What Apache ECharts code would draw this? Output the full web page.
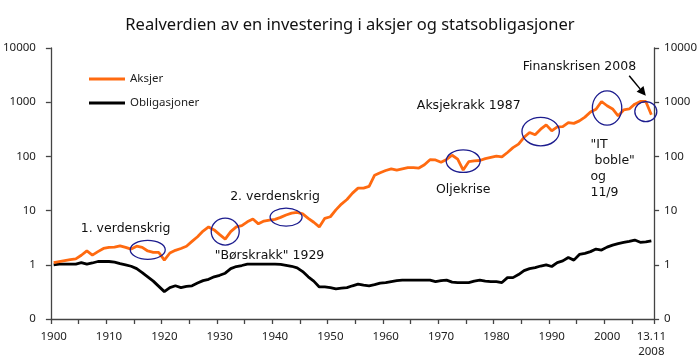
<!DOCTYPE html>
<html><head><meta charset="utf-8">
<script src="https://cdn.jsdelivr.net/npm/echarts@6/dist/echarts.min.js"></script>
<style>html,body{margin:0;padding:0;background:#fff}#c{width:700px;height:363px}</style>
</head><body><div id="c"></div>
<script>
const years = [
1900,1901,1902,1903,1904,1905,1906,1907,1908,1909,
1910,1911,1912,1913,1914,1915,1916,1917,1918,1919,
1920,1921,1922,1923,1924,1925,1926,1927,1928,1929,
1930,1931,1932,1933,1934,1935,1936,1937,1938,1939,
1940,1941,1942,1943,1944,1945,1946,1947,1948,1949,
1950,1951,1952,1953,1954,1955,1956,1957,1958,1959,
1960,1961,1962,1963,1964,1965,1966,1967,1968,1969,
1970,1971,1972,1973,1974,1975,1976,1977,1978,1979,
1980,1981,1982,1983,1984,1985,1986,1987,1988,1989,
1990,1991,1992,1993,1994,1995,1996,1997,1998,1999,
2000,2001,2002,2003,2004,2005,2006,2007,2008];

const aksjer = [
1.10,1.15,1.20,1.25,1.29,1.50,1.81,1.51,1.75,2.00,
2.10,2.12,2.24,2.10,1.95,2.20,2.10,1.80,1.69,1.69,
1.22,1.65,1.85,2.00,2.20,2.70,3.30,4.20,5.00,4.40,
3.60,2.98,4.10,5.00,5.30,6.20,7.00,5.70,6.40,6.70,
6.90,7.50,8.30,9.00,9.30,8.70,7.20,6.10,5.00,7.20,
7.70,10.3,13.2,16,21,26,26,28,45,50,
55,59,56,59,62,62,61,70,87,86,
78,88,105,89,56,80,83,84,91,96,
101,98,118,145,168,225,276,250,318,382,
297,351,355,420,407,452,530,660,740,1030,
860,750,560,720,750,920,1030,1030,585];

const obligasjoner = [
1.00,1.03,1.03,1.03,1.03,1.10,1.03,1.08,1.15,1.15,
1.15,1.12,1.05,1.00,0.94,0.85,0.72,0.60,0.50,0.40,
0.32,0.38,0.41,0.38,0.40,0.41,0.46,0.51,0.54,0.60,
0.64,0.70,0.85,0.93,0.97,1.03,1.03,1.03,1.03,1.03,
1.03,1.02,0.98,0.94,0.88,0.75,0.60,0.50,0.39,0.39,
0.38,0.36,0.37,0.38,0.41,0.44,0.42,0.41,0.43,0.46,
0.47,0.49,0.51,0.52,0.52,0.52,0.52,0.52,0.52,0.49,
0.51,0.52,0.48,0.47,0.47,0.47,0.50,0.52,0.50,0.49,
0.49,0.47,0.58,0.58,0.66,0.78,0.85,0.89,0.95,1.00,
0.93,1.10,1.18,1.36,1.22,1.55,1.63,1.75,1.95,1.87,
2.12,2.30,2.45,2.58,2.70,2.86,2.60,2.65,2.77];

const seriesNames = ['Aksjer','Obligasjoner'];
const lastLabel = '13.11\n2008';
const yTickLabels = {0.1:'0',1:'1',10:'10',100:'100',1000:'1000',10000:'10000'};
const titleText = 'Realverdien av en investering i aksjer og statsobligasjoner';

// annotation anchors in data space: [category index (fractional), value]
const ellipses = [
  {at:[16.56,1.89], rx:17.5, ry:9.5},
  {at:[30.74,4.11], rx:14, ry:13.5},
  {at:[42.46,7.59], rx:16, ry:9},
  {at:[73.97,81.9], rx:17, ry:11.3},
  {at:[87.7,287], rx:18.7, ry:14.2},
  {at:[100.45,782], rx:14.7, ry:17.2},
  {at:[106.68,671], rx:11, ry:10}
];
const notes = [
  {text:'1. verdenskrig', at:[12.79,4.62]},
  {text:'"Børskrakk" 1929', at:[38.82,1.47]},
  {text:'2. verdenskrig', at:[39.63,17.98]},
  {text:'Oljekrise', at:[74.0,24.2]},
  {text:'Aksjekrakk 1987', at:[75.39,858]},
  {text:'Finanskrisen 2008', at:[95.01,4500]}
];
const itNote = {text:'"IT\n boble"\nog\n11/9', at:[96.93,168.6]};
const arrow = {from:[104.12,3069], to:[107.1,1313]};

const chart = echarts.init(document.getElementById('c'), null, {renderer:'canvas'});
const axisFont = 'Noto Sans';
const axisColor = '#444';
const yAxisBase = {
  type:'log', logBase:10, min:0.1, max:10000,
  axisLine:{show:true, lineStyle:{color:axisColor, width:1.3}},
  axisTick:{show:true, length:5, lineStyle:{color:axisColor, width:1.3}},
  splitLine:{show:false},
  axisLabel:{fontFamily:axisFont, fontSize:11.5, color:'#222',
    formatter:v => { const k = Math.round(v*10)/10; return yTickLabels[k] !== undefined ? yTickLabels[k] : ''; }}
};
const option = {
  animation:false,
  backgroundColor:'#fff',
  title:{text:titleText, left:'center', top:12,
    textStyle:{fontFamily:axisFont, fontSize:16.5, fontWeight:'normal', color:'#111'}},
  legend:[
    {data:[{name:seriesNames[0], icon:'rect'}], left:84, top:68, itemWidth:36, itemHeight:3, itemGap:5,
      textStyle:{fontFamily:axisFont, fontSize:11.5, color:'#222'}},
    {data:[{name:seriesNames[1], icon:'rect'}], left:84, top:92, itemWidth:36, itemHeight:3, itemGap:5,
      textStyle:{fontFamily:axisFont, fontSize:11.5, color:'#222'}}
  ],
  grid:{left:49, right:44, top:48, bottom:44, containLabel:false},
  xAxis:{
    type:'category', data:years.map(String), boundaryGap:true,
    axisLine:{lineStyle:{color:axisColor, width:1.3}},
    axisTick:{show:true, interval:4, length:5, lineStyle:{color:axisColor, width:1.3}},
    axisLabel:{fontFamily:axisFont, fontSize:11.5, color:'#222', margin:10, lineHeight:15,
      interval:(i) => i % 10 === 0 || i === years.length-1,
      formatter:(v, i) => i === years.length-1 ? lastLabel : v}
  },
  yAxis:[
    Object.assign({}, yAxisBase, {position:'left', axisLabel:Object.assign({}, yAxisBase.axisLabel, {margin:15})}),
    Object.assign({}, yAxisBase, {position:'right', axisLabel:Object.assign({}, yAxisBase.axisLabel, {margin:10})})
  ],
  series:[
    {name:seriesNames[0], type:'line', data:aksjer, showSymbol:false, symbol:'none',
      lineStyle:{color:'#ff6a10', width:2.8}, itemStyle:{color:'#ff6a10'}, z:3},
    {name:seriesNames[1], type:'line', data:obligasjoner, showSymbol:false, symbol:'none',
      lineStyle:{color:'#000', width:2.8}, itemStyle:{color:'#000'}, z:2}
  ]
};
chart.setOption(option);

function px(p){ return chart.convertToPixel({xAxisIndex:0, yAxisIndex:0}, p); }
const g = [];
ellipses.forEach(e => {
  const c = px(e.at);
  g.push({type:'ellipse', shape:{cx:c[0], cy:c[1], rx:e.rx, ry:e.ry},
    style:{fill:'none', stroke:'#1c1c8e', lineWidth:1.3}, z:10});
});
const noteFont = '12.5px "DejaVu Sans"';
notes.forEach(n => {
  const c = px(n.at);
  g.push({type:'text', x:c[0], y:c[1], style:{text:n.text, font:noteFont, fill:'#111', align:'center', verticalAlign:'middle'}, z:10});
});
(function(){
  const c = px(itNote.at);
  g.push({type:'text', x:c[0], y:c[1]-8, style:{text:itNote.text, font:noteFont, fill:'#111', align:'left', verticalAlign:'top', lineHeight:16.3}, z:10});
})();
(function(){
  const a = px(arrow.from), b = px(arrow.to);
  const dx = b[0]-a[0], dy = b[1]-a[1], L = Math.hypot(dx,dy), ux = dx/L, uy = dy/L;
  const hl = 9, hw = 4.5;
  const bx = b[0]-ux*hl, by = b[1]-uy*hl;
  g.push({type:'line', shape:{x1:a[0], y1:a[1], x2:bx, y2:by}, style:{stroke:'#000', lineWidth:1.5}, z:10});
  g.push({type:'polygon', shape:{points:[[b[0],b[1]],[bx-uy*hw, by+ux*hw],[bx+uy*hw, by-ux*hw]]}, style:{fill:'#000'}, z:10});
})();
chart.setOption({graphic:g});
</script>
</body></html>
